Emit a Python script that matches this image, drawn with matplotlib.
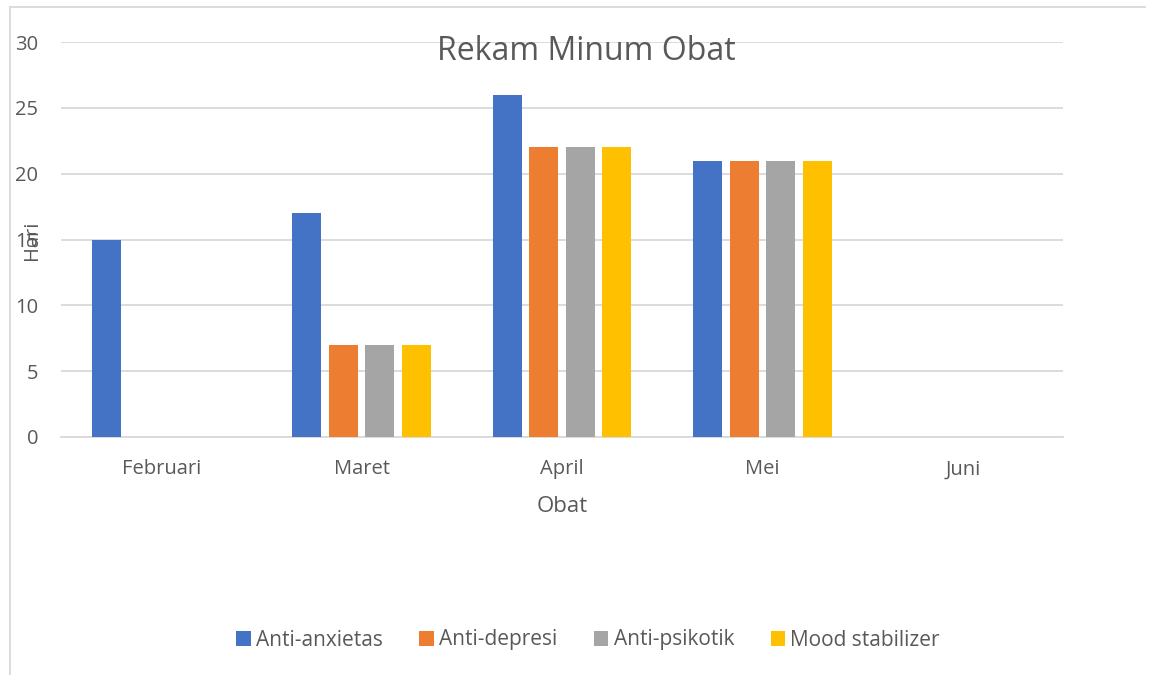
"""Rekam Minum Obat - grouped bar chart."""
import numpy as np
import matplotlib.pyplot as plt
from matplotlib.lines import Line2D

bulan = ['Februari', 'Maret', 'April', 'Mei', 'Juni']
anti_anxietas = [15, 17, 26, 21, 0]
anti_depresi = [0, 7, 22, 21, 0]
anti_psikotik = [0, 7, 22, 21, 0]
mood_stabilizer = [0, 7, 22, 21, 0]

series = [
    ('Anti-anxietas', anti_anxietas, '#4472C4'),
    ('Anti-depresi', anti_depresi, '#ED7D31'),
    ('Anti-psikotik', anti_psikotik, '#A5A5A5'),
    ('Mood stabilizer', mood_stabilizer, '#FFC000'),
]

plt.rcParams['font.family'] = ['Open Sans', 'DejaVu Sans']
text_color = '#595959'
grid_color = '#D9D9D9'

fig = plt.figure(figsize=(11.54, 6.75), dpi=100)
ax = fig.add_axes([61 / 1154, 1 - 437 / 675, 1002 / 1154, 395 / 675])

x = np.arange(len(bulan))
width = 0.145
step = 0.182
for i, (name, vals, color) in enumerate(series):
    ax.bar(x + (i - 1.5) * step, vals, width, color=color, label=name, zorder=3)

ax.set_xlim(-0.5, len(bulan) - 0.5)
ax.set_ylim(0, 30)
ax.set_yticks(range(0, 31, 5))
ax.set_xticks(x)
ax.set_xticklabels(bulan)
ax.tick_params(axis='both', length=0, labelsize=14.5, colors=text_color)
ax.tick_params(axis='y', pad=16.5)
ax.tick_params(axis='x', pad=16)
ax.grid(axis='y', color=grid_color, linewidth=1.3, zorder=0)
for s in ['top', 'right', 'left']:
    ax.spines[s].set_visible(False)
ax.spines['bottom'].set_color(grid_color)
ax.spines['bottom'].set_linewidth(1.3)

fig.text(586 / 1154, 1 - 52 / 675, 'Rekam Minum Obat', ha='center', va='center',
         fontsize=23, color=text_color)
fig.text(32 / 1154, 1 - 240 / 675, 'Hari', ha='center', va='center',
         rotation=90, fontsize=14.5, color=text_color)
fig.text(562 / 1154, 1 - 507 / 675, 'Obat', ha='center', va='center',
         fontsize=16, color=text_color)

fig.legend(loc='center', bbox_to_anchor=(588 / 1154, 1 - 640 / 675), ncol=4,
           frameon=False, fontsize=15, labelcolor=text_color,
           handlelength=0.7, handleheight=0.7, handletextpad=0.25,
           columnspacing=1.75)

# outer frame (top and left only visible)
fig.add_artist(Line2D([10 / 1154, 1145 / 1154], [1 - 7 / 675, 1 - 7 / 675],
                      color=grid_color, linewidth=1.3))
fig.add_artist(Line2D([10 / 1154, 10 / 1154], [1 - 7 / 675, 0],
                      color=grid_color, linewidth=1.3))

fig.savefig('out.png', dpi=100)
